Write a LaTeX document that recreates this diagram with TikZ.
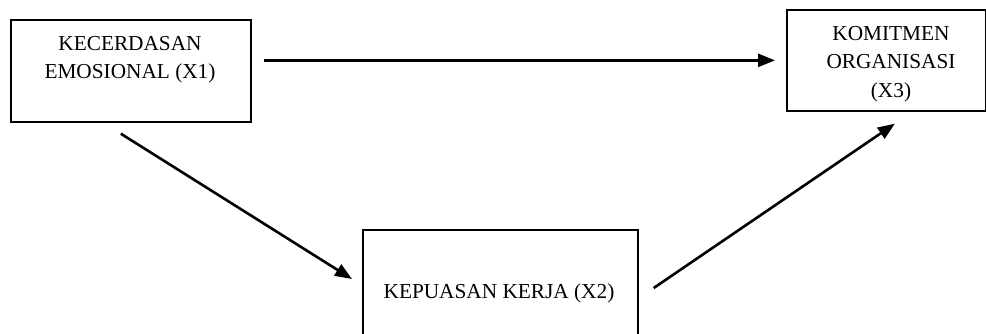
\documentclass[tikz,border=0pt]{standalone}
\usepackage{fontspec}
\setmainfont{Liberation Serif}
\usetikzlibrary{arrows.meta}

\begin{document}
\begin{tikzpicture}[x=1pt,y=-1pt,
  box/.style={draw, line width=1.7pt, inner sep=0pt, anchor=north west},
  lbl/.style={font=\fontsize{21.3}{28.5}\selectfont, align=center, inner sep=0pt, anchor=base},
  arr/.style={line width=2.6pt, -{Triangle[length=17pt,width=13pt]}}]
\useasboundingbox (0,0) rectangle (986,333);
\clip (0,0) rectangle (986,333);

% the three variable boxes
\node[box, minimum width=240pt, minimum height=102pt] (x1) at (10,19) {};
\node[box, minimum width=199pt, minimum height=101pt] (x3) at (786,9) {};
\node[box, minimum width=275pt, minimum height=140pt] (x2) at (362,229) {};

% box captions near the top of each box (base anchor = last line's baseline)
\node[lbl] (t1) at (130,78.5) {KECERDASAN\\EMOSIONAL (X1)};
\node[lbl] (t3) at (891,97) {KOMITMEN\\ORGANISASI\\(X3)};
\node[lbl] (t2) at (499,298) {KEPUASAN KERJA (X2)};

% paths between the variables
\draw[arr] ([xshift=12pt]x1.east |- x3.center) -- ([xshift=-11pt]x3.west);
\draw[arr] ([shift={(-10pt,-11pt)}]x1.south) -- ([shift={(-10pt,-50pt)}]x2.north west);
\draw[arr] ([shift={(15pt,-59pt)}]x2.north east) -- ([shift={(8.5pt,-12pt)}]x3.south);
\end{tikzpicture}
\end{document}
